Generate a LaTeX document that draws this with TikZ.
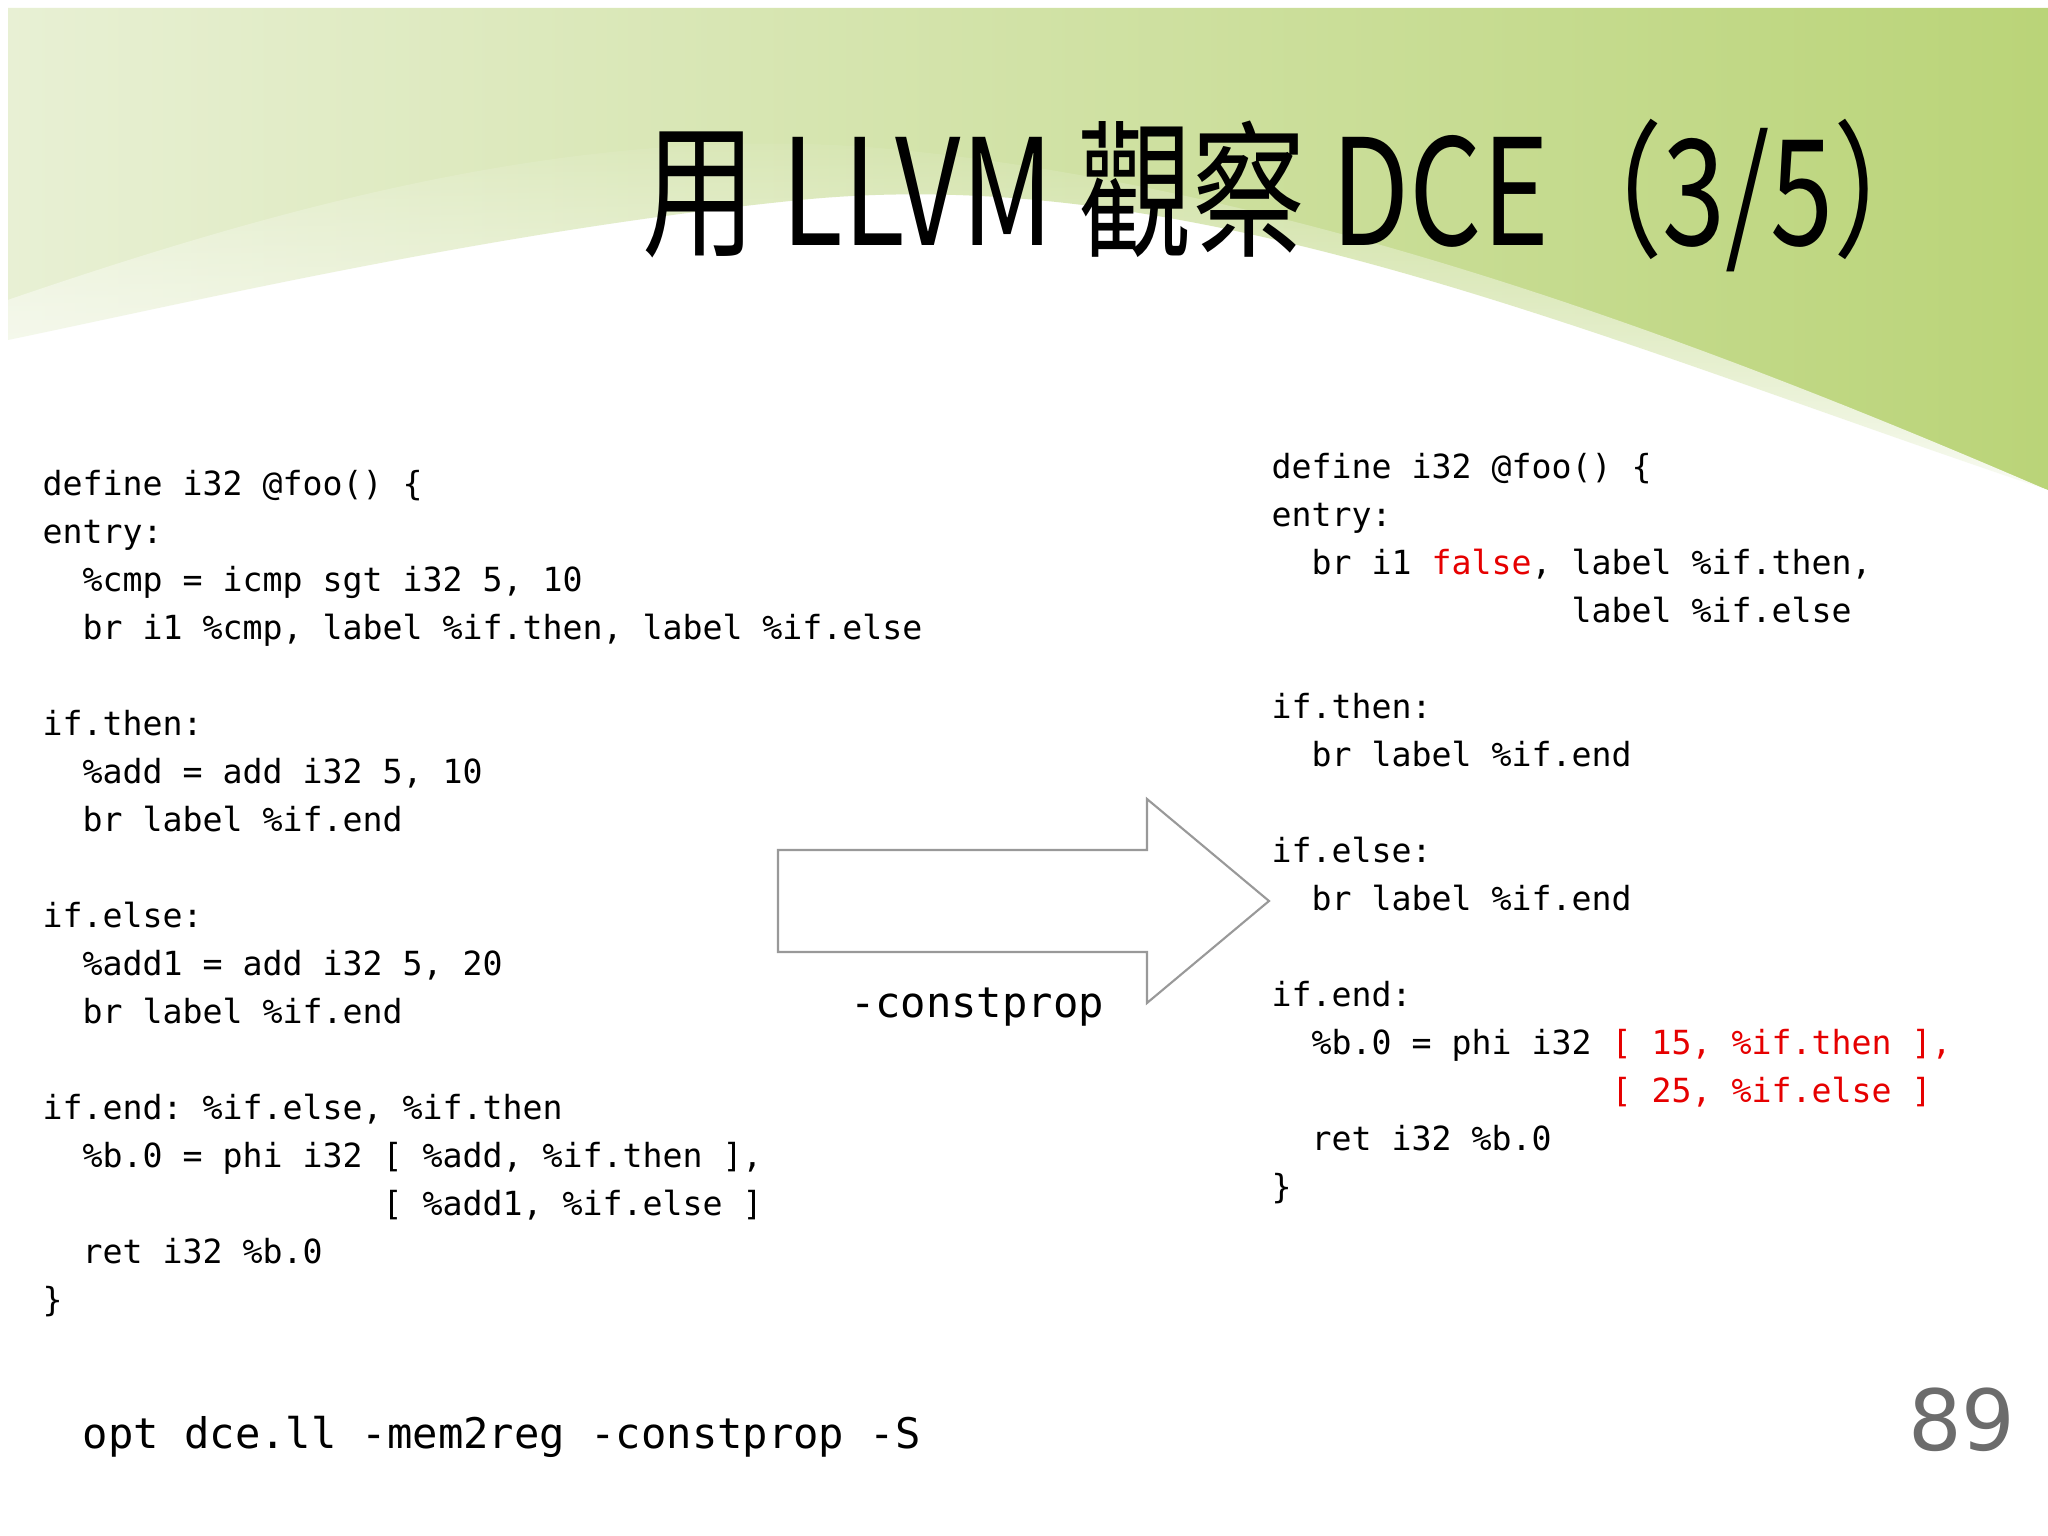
\documentclass[tikz,border=0pt]{standalone}
\usepackage{fontspec}
\setmonofont{DejaVu Sans Mono}
\setsansfont{DejaVu Sans}
\newfontfamily\cjk{Noto Sans CJK TC}
\usetikzlibrary{fadings}
\definecolor{gA}{RGB}{186,212,120}
\definecolor{gB}{RGB}{232,240,212}
\definecolor{redc}{RGB}{230,0,0}
\tikzset{code/.style={font=\ttfamily\fontsize{9.45pt}{13.65pt}\selectfont,align=left,anchor=north west,inner sep=0pt},
big/.style={font=\ttfamily\fontsize{12pt}{14pt}\selectfont,inner sep=0pt}}
\begin{document}
\begin{tikzpicture}
\useasboundingbox (0,0) rectangle (20.48,-15.36);
\fill[white] (0,0) rectangle (20.48,-15.36);
% green swoosh
\shade[left color=gB, right color=gA]
  (0.08,-0.08) -- (20.48,-0.08) -- (20.48,-4.9)
  .. controls (16,-3.4) and (12,-1.6) .. (8,-2.0)
  .. controls (5,-2.3) and (2,-3.0) .. (0.08,-3.4) -- cycle;
\fill[white,path fading=north]
  (0.08,-3.0) .. controls (3,-2.0) and (6,-1.2) .. (9,-1.5)
  .. controls (13,-1.9) and (17,-3.4) .. (20.48,-4.9) -- (20.48,-5.2) -- (0.08,-5.2) -- cycle;
% title
\node[font=\cjk\fontsize{42pt}{46pt}\selectfont,anchor=west,inner sep=0pt] (title) at (6.42,-1.96) {\scalebox{0.77}[1]{用 LLVM 觀察 DCE（3/5）}};
% left code
\node[code] (left) at (0.42,-4.70) {define i32 @foo() \{\\
entry:\\
\ \ \%cmp = icmp sgt i32 5, 10\\
\ \ br i1 \%cmp, label \%if.then, label \%if.else\\
\strut\\
if.then:\\
\ \ \%add = add i32 5, 10\\
\ \ br label \%if.end\\
\strut\\
if.else:\\
\ \ \%add1 = add i32 5, 20\\
\ \ br label \%if.end\\
\strut\\
if.end: \%if.else, \%if.then\\
\ \ \%b.0 = phi i32 [ \%add, \%if.then ],\\
\ \ \ \ \ \ \ \ \ \ \ \ \ \ \ \ \ [ \%add1, \%if.else ]\\
\ \ ret i32 \%b.0\\
\}};
% right code
\node[code] (right) at (12.71,-4.53) {define i32 @foo() \{\\
entry:\\
\ \ br i1 \textcolor{redc}{false}, label \%if.then,\\
\ \ \ \ \ \ \ \ \ \ \ \ \ \ \ label \%if.else\\
\strut\\
if.then:\\
\ \ br label \%if.end\\
\strut\\
if.else:\\
\ \ br label \%if.end\\
\strut\\
if.end:\\
\ \ \%b.0 = phi i32 \textcolor{redc}{[ 15, \%if.then ],}\\
\ \ \ \ \ \ \ \ \ \ \ \ \ \ \ \ \ \textcolor{redc}{[ 25, \%if.else ]}\\
\ \ ret i32 \%b.0\\
\}};
% block arrow
\draw[gray!80,line width=0.6pt] (7.78,-8.50) -- (11.47,-8.50) -- (11.47,-7.99) -- (12.69,-9.01)
  -- (11.47,-10.03) -- (11.47,-9.52) -- (7.78,-9.52) -- cycle;
\node[big] (cp) at (9.77,-10.07) {-constprop};
\node[big,anchor=west] (cmd) at (0.82,-14.37) {opt dce.ll -mem2reg -constprop -S};
\node[font=\sffamily\fontsize{24pt}{26pt}\selectfont,text=gray!85!black,inner sep=0pt] (num) at (19.62,-14.20) {89};
\end{tikzpicture}
\end{document}
